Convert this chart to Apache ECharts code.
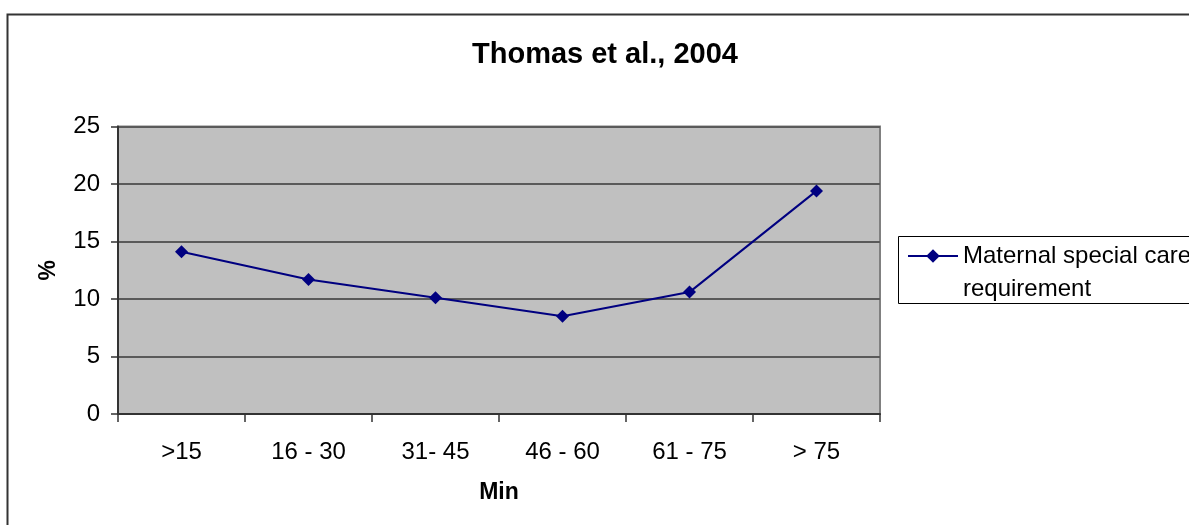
<!DOCTYPE html>
<html>
<head>
<meta charset="utf-8">
<title>Thomas et al., 2004</title>
<script src="https://cdn.jsdelivr.net/npm/echarts@6/dist/echarts.min.js"></script>
<style>
  html, body { margin: 0; padding: 0; background: #fff; }
  #chart { width: 1189px; height: 525px; }
</style>
</head>
<body>
<div id="chart"></div>
<script>
// data
var categories = ['>15', '16 - 30', '31- 45', '46 - 60', '61 - 75', '> 75']
var careValues = [14.1, 11.7, 10.1, 8.5, 10.6, 19.4]
var seriesName = 'Maternal special care requirement'

var font = '"Liberation Sans", Arial, sans-serif'
var chart = echarts.init(document.getElementById('chart'))

chart.setOption({
  animation: false,
  backgroundColor: '#fff',
  textStyle: { fontFamily: font },
  title: {
    text: 'Thomas et al., 2004',
    left: 472,
    top: 40,
    padding: 0,
    textStyle: { fontSize: 29, fontWeight: 'bold', color: '#000', fontFamily: font }
  },
  grid: {
    left: 118,
    right: 309,
    top: 126.5,
    bottom: 111,
    show: true,
    backgroundColor: '#c0c0c0',
    borderColor: '#808080',
    borderWidth: 2
  },
  legend: {
    left: 907,
    top: 206.5,
    padding: 0,
    itemWidth: 50,
    itemHeight: 17,
    borderWidth: 0,
    // leading blank line keeps the first text line level with the icon
    formatter: function() {
      return '\nMaternal special care\nrequirement'
    },
    textStyle: {
      fontSize: 24,
      lineHeight: 33,
      color: '#000',
      fontFamily: font
    },
    data: [seriesName]
  },
  xAxis: {
    type: 'category',
    data: categories,
    boundaryGap: true,
    name: 'Min',
    nameLocation: 'middle',
    nameGap: 67,
    nameTextStyle: { fontSize: 23, fontWeight: 'bold', color: '#000', fontFamily: font },
    axisLine: { lineStyle: { color: '#333', width: 2 } },
    axisTick: { show: true, length: 8, lineStyle: { color: '#333', width: 1.5 } },
    axisLabel: { fontSize: 24, color: '#000', margin: 26, fontFamily: font },
    splitLine: { show: false }
  },
  yAxis: {
    type: 'value',
    min: 0,
    max: 25,
    interval: 5,
    name: '%',
    nameLocation: 'middle',
    nameGap: 58,
    nameTextStyle: { fontSize: 23, fontWeight: 'bold', color: '#000', fontFamily: font },
    axisLine: { show: true, lineStyle: { color: '#333', width: 2 } },
    axisTick: { show: true, length: 7, lineStyle: { color: '#333', width: 1.5 } },
    axisLabel: { fontSize: 24, color: '#000', margin: 18, fontFamily: font },
    splitLine: { show: true, lineStyle: { color: '#5a5a5a', width: 2 } }
  },
  series: [
    {
      name: seriesName,
      type: 'line',
      data: careValues,
      symbol: 'diamond',
      symbolSize: 13,
      lineStyle: { color: '#000080', width: 2 },
      itemStyle: { color: '#000080' }
    }
  ],
  graphic: [
    // outer chart frame (cut off at the right and bottom)
    {
      type: 'rect',
      shape: { x: 7.5, y: 14.5, width: 1400, height: 700 },
      style: { fill: null, stroke: '#333', lineWidth: 2 },
      silent: true
    },
    // legend frame
    {
      type: 'rect',
      shape: { x: 898.5, y: 236.5, width: 400, height: 67 },
      style: { fill: null, stroke: '#000', lineWidth: 1 },
      silent: true
    }
  ]
})
</script>
</body>
</html>
